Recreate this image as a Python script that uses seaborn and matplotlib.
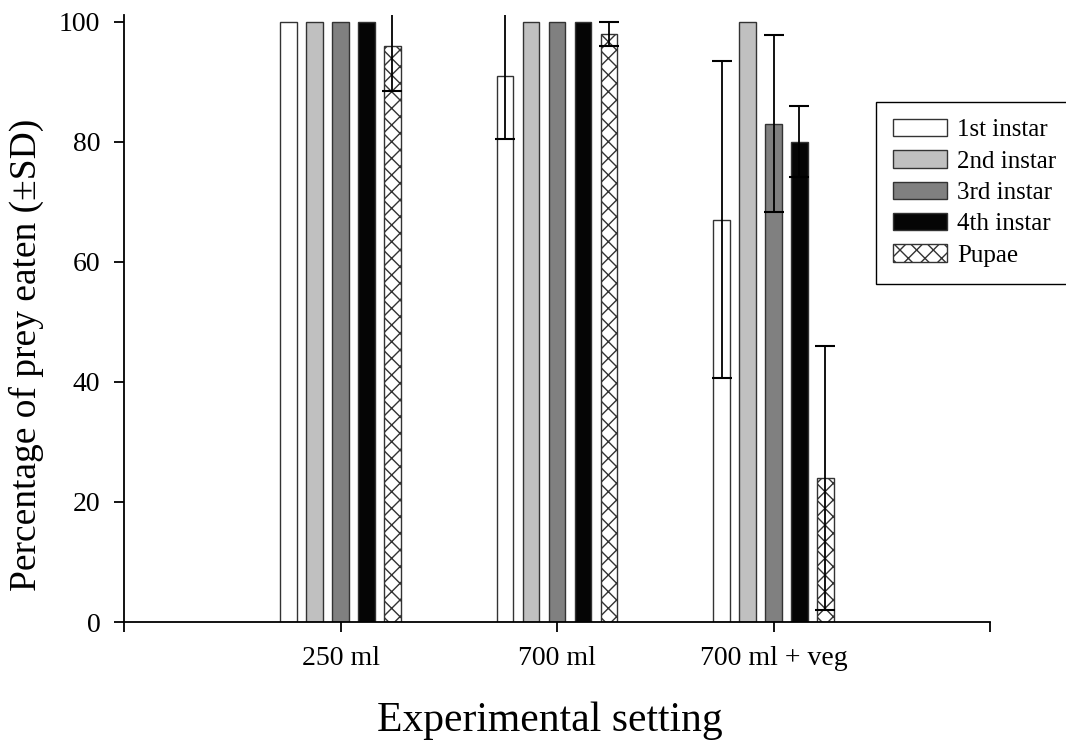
import numpy as np
import pandas as pd
import matplotlib
matplotlib.use('Agg')
import matplotlib.pyplot as plt
import seaborn as sns

# data
settings = ['250 ml', '700 ml', '700 ml + veg']
stages = ['1st instar', '2nd instar', '3rd instar', '4th instar', 'Pupae']

# mean % of prey eaten, one list per prey stage (order = settings)
first_instar = [100, 91, 67]
second_instar = [100, 100, 100]
third_instar = [100, 100, 83]
fourth_instar = [100, 100, 80]
pupae = [96, 98, 24]

# SD for each of the above
first_sd = [0, 10.5, 26.4]
second_sd = [0, 0, 0]
third_sd = [0, 0, 14.7]
fourth_sd = [0, 0, 5.9]
pupae_sd = [7.6, 2, 22]

bar_colors = ['white', '#c0c0c0', '#808080', '#050505', 'white']

means = [first_instar, second_instar, third_instar, fourth_instar, pupae]
sds = [first_sd, second_sd, third_sd, fourth_sd, pupae_sd]

rows = []
for stage, m, s in zip(stages, means, sds):
    for setting, v, e in zip(settings, m, s):
        rows.append({'setting': setting, 'stage': stage, 'pct': v, 'sd': e})
df = pd.DataFrame(rows)

# plot
sns.set_style('ticks')
plt.rcParams['font.family'] = ['Liberation Serif', 'DejaVu Serif']
plt.rcParams['hatch.linewidth'] = 1.0
plt.rcParams['text.color'] = 'black'
plt.rcParams['axes.labelcolor'] = 'black'
plt.rcParams['xtick.color'] = 'black'
plt.rcParams['ytick.color'] = 'black'

fig = plt.figure(figsize=(10.66, 7.5), dpi=100)
ax = fig.add_axes([124/1066, 1 - 622/750, 866/1066, 607/750])

sns.barplot(data=df, x='setting', y='pct', hue='stage', order=settings,
            hue_order=stages, palette=bar_colors, saturation=1,
            width=0.6, gap=0.38, errorbar=None, edgecolor='#333333',
            linewidth=1, legend=False, ax=ax)

# pupae bars are cross-hatched
for bar in ax.containers[4]:
    bar.set_hatch('xx')

# error bars (only where SD > 0)
for cont, sd in zip(ax.containers, sds):
    for bar, e in zip(cont, sd):
        if e > 0:
            xc = bar.get_x() + bar.get_width() / 2
            ax.errorbar(xc, bar.get_height(), yerr=e, color='black',
                        lw=1.3, capsize=7, capthick=1.5, zorder=5)

ax.set_xlim(-1, 3)
ax.set_ylim(0, 101.1)
ax.set_xticks([-1, 0, 1, 2, 3])
ax.set_xticklabels([''] + settings + [''])
ax.set_yticks(np.arange(0, 101, 20))

sns.despine(ax=ax)
for sp in ['left', 'bottom']:
    ax.spines[sp].set_linewidth(1.3)
    ax.spines[sp].set_color('black')
ax.tick_params(direction='out', length=7, width=1.3, pad=10,
               labelsize=20, colors='black')

ax.set_xlabel('Experimental setting', fontsize=30, va='center')
ax.xaxis.set_label_coords(0.492, -0.163)
ax.set_ylabel('Percentage of prey eaten (±SD)', fontsize=27, va='center')
ax.yaxis.set_label_coords(-0.1127, 0.44)

leg = ax.legend(ax.containers, stages, loc='upper left',
                bbox_to_anchor=(876/1066, 1 - 102/750),
                bbox_transform=fig.transFigure, fontsize=18,
                frameon=True, fancybox=False, framealpha=1,
                edgecolor='black', borderaxespad=0, borderpad=0.68,
                handlelength=2.16, handleheight=0.68, handletextpad=0.4,
                labelspacing=0.36)
leg.get_frame().set_linewidth(1.0)

fig.savefig('out.png', dpi=100)
